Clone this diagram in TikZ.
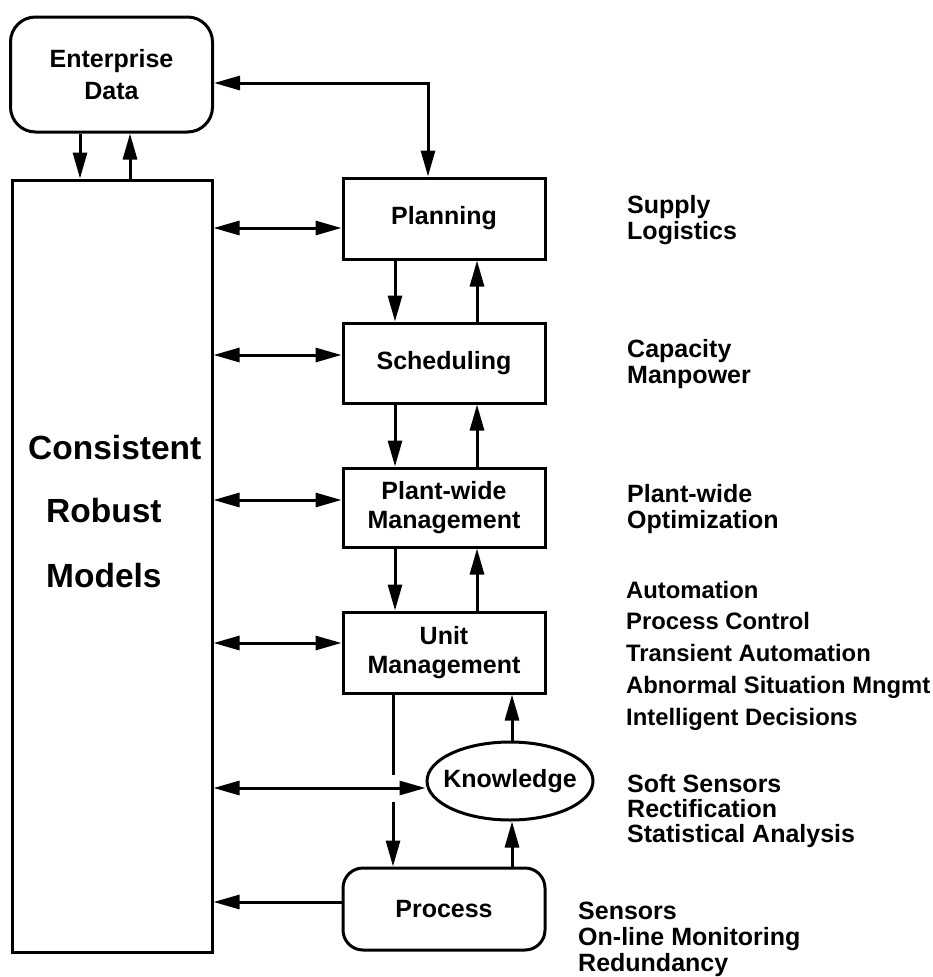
\documentclass[tikz,border=0pt]{standalone}
\usepackage{fontspec}
\setmainfont{Liberation Sans}
\usetikzlibrary{arrows.meta,shapes.geometric}
\newcommand\boxfont{\bfseries\fontsize{25}{29}\selectfont}
\newcommand\sidefont[2]{\bfseries\fontsize{#1}{#2}\selectfont}
\newcommand\modelfont{\bfseries\fontsize{33.5}{40}\selectfont}
\begin{document}
\begin{tikzpicture}[x=1pt,y=-1pt,
  lw/.style={line width=3pt},
  tip/.tip={Triangle[length=26pt,width=14pt]},
  arr/.style={lw,-tip},
  darr/.style={lw,tip-tip},
  box/.style={draw,lw,rectangle,minimum width=202pt,inner sep=0pt,align=center,font=\boxfont},
  side/.style={anchor=base west,align=left,inner sep=0pt}]
\useasboundingbox (0,0) rectangle (933,977);

% blocks
\node[box,minimum height=115pt,rounded corners=25pt,font=\bfseries\fontsize{25}{32}\selectfont] (ent) at (111.5,74.5) {\raisebox{-2pt}{Enterprise}\\\raisebox{-2pt}{Data}};
\node[box,minimum width=200pt,minimum height=772pt] (models) at (112,566) {};
\node[box,minimum height=81pt] (plan) at (444,218.5) {Planning};
\node[box,minimum height=80pt] (sched) at (444,363) {Scheduling};
\node[box,minimum height=79pt] (plant) at (444,507.5) {Plant-wide\\Management};
\node[box,minimum height=81pt] (unit) at (444,652.5) {Unit\\Management};
\node[draw,lw,ellipse,minimum width=166pt,minimum height=78pt,inner xsep=-8pt,inner ysep=0pt,font=\boxfont] (know) at (510,781) {Knowledge};
\node[box,minimum height=82pt,rounded corners=20pt] (proc) at (444,909) {Process};

% text inside the model block
\node[anchor=base west,inner sep=0pt,font=\modelfont] (m1) at (28,459) {Consistent};
\node[anchor=base west,inner sep=0pt,font=\modelfont] (m2) at (46,522) {Robust};
\node[anchor=base west,inner sep=0pt,font=\modelfont] (m3) at (46,587) {Models};

% side notes (anchored at the baseline of their last line)
\node[side,font=\sidefont{25}{26}] (s1) at (627,239) {Supply\\Logistics};
\node[side,font=\sidefont{25}{26}] (s2) at (627,383) {Capacity\\Manpower};
\node[side,font=\sidefont{25}{26}] (s3) at (627,528) {Plant-wide\\Optimization};
\node[side,font=\sidefont{23.8}{31.7}] (s4) at (626,725) {Automation\\Process Control\\Transient Automation\\Abnormal Situation Mngmt\\Intelligent Decisions};
\node[side,font=\sidefont{25}{25}] (s5) at (627,842) {Soft Sensors\\Rectification\\Statistical Analysis};
\node[side,font=\sidefont{25}{26}] (s6) at (578,971) {Sensors\\On-line Monitoring\\Redundancy};

% reference columns and rows for the connectors
\coordinate (cA) at (80,0);
\coordinate (cB) at (130,0);
\coordinate (cD) at (395,0);
\coordinate (cU) at (477,0);
\coordinate (cV) at (393,0);
\coordinate (cK) at (512,0);
\coordinate (cE) at (428,0);
\coordinate (rE) at (0,83);
\coordinate (r1) at (0,228);
\coordinate (r2) at (0,355);
\coordinate (r3) at (0,500);
\coordinate (r4) at (0,643);
\coordinate (r5) at (0,788);
\coordinate (r6) at (0,902);
\coordinate (gapTop) at (393,775);
\coordinate (gapBot) at (393,802);

% enterprise data links
\draw[arr] (ent.south -| cA) -- (models.north -| cA);
\draw[arr] (models.north -| cB) -- (ent.south -| cB);
\draw[darr] (ent.east |- rE) -| (plan.north -| cE);

% model links
\draw[darr] (models.east |- r1) -- (plan.west |- r1);
\draw[darr] (models.east |- r2) -- (sched.west |- r2);
\draw[darr] (models.east |- r3) -- (plant.west |- r3);
\draw[darr] (models.east |- r4) -- (unit.west |- r4);
\draw[darr] (models.east |- r5) -- (know.west |- r5);
\draw[arr] (proc.west |- r6) -- (models.east |- r6);

% hierarchy links
\draw[arr] (plan.south -| cD) -- (sched.north -| cD);
\draw[arr] (sched.north -| cU) -- (plan.south -| cU);
\draw[arr] (sched.south -| cD) -- (plant.north -| cD);
\draw[arr] (plant.north -| cU) -- (sched.south -| cU);
\draw[arr] (plant.south -| cD) -- (unit.north -| cD);
\draw[arr] (unit.north -| cU) -- (plant.south -| cU);

% unit, knowledge and process loop
\draw[lw] (unit.south -| cV) -- (gapTop);
\draw[arr] (gapBot) -- (proc.north -| cV);
\draw[arr] (proc.north -| cK) -- (know.south -| cK);
\draw[arr] (know.north -| cK) -- (unit.south -| cK);
\end{tikzpicture}
\end{document}
